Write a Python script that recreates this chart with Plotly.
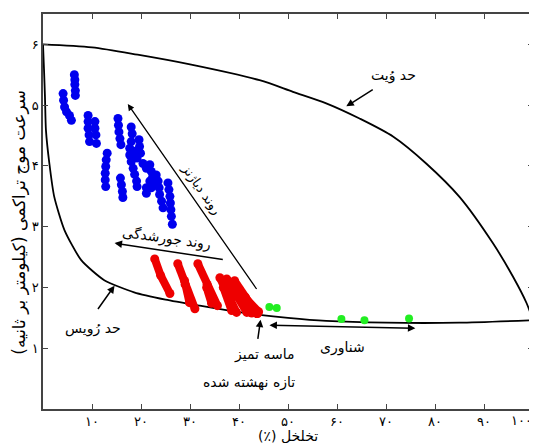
import plotly.graph_objects as go

# ---- data ----
x_ticks = [10, 20, 30, 40, 50, 60, 70, 80, 90, 100]
x_ticklabels = ["۱۰", "۲۰", "۳۰", "۴۰", "۵۰", "۶۰", "۷۰", "۸۰", "۹۰", "۱۰۰"]
y_ticks = [1, 2, 3, 4, 5, 6]
y_ticklabels = ["۱", "۲", "۳", "۴", "۵", "۶"]

voigt_x = [0, 10, 19.3, 30, 44.2, 51.0, 57.8, 64.6, 71.5, 78.2, 85.0, 91.8, 95.9, 98.7, 100]
voigt_y = [6.0, 5.95, 5.83, 5.67, 5.41, 5.22, 5.03, 4.78, 4.48, 4.04, 3.49, 2.73, 2.18, 1.74, 1.46]

reuss_x = [0, 0.2, 0.4, 0.6, 1.3, 2.3, 4.4, 7.8, 12.5, 18.6, 25.0, 32.0, 38.0, 44.2, 50.0, 57.8, 70.0, 85.0, 100.0]
reuss_y = [6.0, 5.6, 5.14, 4.59, 4.04, 3.49, 2.94, 2.45, 2.12, 1.92, 1.80, 1.70, 1.62, 1.55, 1.50, 1.45, 1.42, 1.42, 1.46]

blue_x = [6.4, 6.5, 6.5, 6.6, 6.6,
          4.1, 4.2, 4.4, 4.8, 5.4, 5.8,
          9.2, 9.2, 9.2, 9.4, 9.5, 10.6, 10.6, 10.8, 10.9,
          15.3, 15.4, 15.5, 15.7, 15.9,
          13.1, 12.9, 12.8, 12.7, 12.7, 12.8,
          15.8, 16.0, 16.2, 16.3,
          18.0, 18.2, 18.0, 17.7, 17.7, 18.0, 18.4, 18.7, 19.1, 19.2, 19.6, 19.7, 19.9, 19.2, 18.7,
          20.4, 21.1, 21.8, 22.1, 22.4, 21.8, 21.1, 21.1, 23.1, 23.5, 23.7, 23.8, 24.2, 24.5, 22.8, 22.1,
          25.5, 25.7, 25.9, 26.0, 26.1, 26.2, 26.4]
blue_y = [5.50, 5.42, 5.34, 5.24, 5.16,
          5.19, 5.08, 4.97, 4.89, 4.83, 4.75,
          4.83, 4.73, 4.62, 4.51, 4.40, 4.73, 4.62, 4.51, 4.37,
          4.78, 4.67, 4.56, 4.45, 4.35,
          4.21, 4.10, 3.99, 3.88, 3.77, 3.66,
          3.80, 3.69, 3.58, 3.48,
          4.64, 4.53, 4.40, 4.29, 4.18, 4.07, 3.96, 3.86, 3.75, 3.66, 4.43, 4.32, 4.21, 4.13, 4.24,
          4.04, 3.96, 4.02, 3.91, 3.83, 3.75, 3.64, 3.55, 3.85, 3.75, 3.64, 3.53, 3.42, 3.31, 3.72, 3.64,
          3.72, 3.61, 3.50, 3.39, 3.28, 3.17, 3.04]

red_streaks_x = [[22.8, 24.0, 25.9], [27.5, 29.0, 31.0], [31.6, 33.5, 35.6], [28.9, 29.9],
                 [33.4, 34.4], [36.1, 37.8, 39.5], [37.5, 39.5, 41.6], [39.1, 41.3, 43.6],
                 [40.1, 43.8], [36.8, 38.5], [38.3, 40.5, 42.6], [41.0, 44.0]]
red_streaks_y = [[2.47, 2.20, 1.90], [2.39, 2.05, 1.65], [2.39, 2.05, 1.70], [2.11, 1.75],
                 [2.00, 1.74], [2.16, 1.88, 1.59], [2.14, 1.86, 1.59], [2.11, 1.84, 1.57],
                 [1.95, 1.57], [2.00, 1.62], [2.05, 1.80, 1.58], [1.85, 1.60]]

green_x = [46.2, 47.7, 60.9, 65.6, 74.7]
green_y = [1.68, 1.66, 1.48, 1.46, 1.49]

FONT = "DejaVu Sans"
RLM = "\u200f"

fig = go.Figure()
fig.add_trace(go.Scatter(x=voigt_x, y=voigt_y, mode="lines",
                         line=dict(color="black", width=1.8, shape="spline", smoothing=0.8), showlegend=False))
fig.add_trace(go.Scatter(x=reuss_x, y=reuss_y, mode="lines",
                         line=dict(color="black", width=1.8, shape="spline", smoothing=0.6), showlegend=False))

for rx, ry in zip(red_streaks_x, red_streaks_y):
    fig.add_trace(go.Scatter(x=rx, y=ry, mode="lines+markers",
                             line=dict(color="#ee0000", width=8),
                             marker=dict(color="#ee0000", size=9), showlegend=False))

fig.add_trace(go.Scatter(x=blue_x, y=blue_y, mode="markers",
                         marker=dict(color="#0000ee", size=9), showlegend=False))
fig.add_trace(go.Scatter(x=green_x, y=green_y, mode="markers",
                         marker=dict(color="#22ee22", size=8), showlegend=False))

anns = []


def arrow(x, y, ax, ay, width=1.5, side="end"):
    return dict(x=x, y=y, ax=ax, ay=ay, xref="x", yref="y", axref="x", ayref="y",
                showarrow=True, arrowhead=2, arrowsize=1, arrowwidth=width,
                arrowcolor="black", arrowside=side, text="")


anns.append(arrow(61.9, 4.98, 67.6, 5.27))
anns.append(arrow(14.6, 2.03, 11.0, 1.62))
anns.append(arrow(17.3, 5.02, 43.8, 1.95, width=1.3))
anns.append(arrow(14.6, 2.73, 37.0, 2.455))
anns.append(arrow(44.4, 1.47, 43.8, 1.13))
anns.append(arrow(76.0, 1.33, 45.9, 1.38, side="end+start"))


def label(x, y, text, size=14, angle=0):
    return dict(x=x, y=y, xref="x", yref="y", text=text, showarrow=False,
                xanchor="center", yanchor="middle",
                font=dict(family=FONT, size=size, color="black"), textangle=angle)


anns.append(label(71.6, 5.49, "حد وُیت"))
anns.append(label(10.2, 1.33, "حد رُویس"))
anns.append(label(32.4, 3.61, "روند دیاژنز", size=13, angle=55))
anns.append(label(25.2, 2.80, "روند جورشدگی", size=14, angle=8))
anns.append(label(45.2, 0.89, "ماسه تمیز", size=14))
anns.append(label(42.0, 0.43, "تازه نهشته شده", size=14))
anns.append(label(61.1, 1.02, "شناوری", size=14))

# the last x tick label sits at the window edge, so it is drawn nudged inward
anns.append(dict(x=x_ticks[-1], y=0, xref="x", yref="y", text=x_ticklabels[-1], showarrow=False,
                 xanchor="center", yanchor="middle", xshift=-12, yshift=-11,
                 font=dict(family=FONT, size=13, color="black")))

anns.append(dict(x=-0.047, y=0.474, xref="paper", yref="paper", showarrow=False,
                 xanchor="center", yanchor="middle",
                 text="سرعت موج تراکمی (کیلومتر بر ثانیه)" + RLM, textangle=-90,
                 font=dict(family=FONT, size=17, color="black")))
anns.append(dict(x=0.5, y=-0.068, xref="paper", yref="paper", showarrow=False,
                 xanchor="center", yanchor="middle",
                 text="تخلخل (٪)" + RLM,
                 font=dict(family=FONT, size=14, color="black")))

# page body has an 8px margin, so the figure is sized/offset to fill the window
fig.update_layout(
    width=529, height=435,
    margin=dict(l=35, r=4, t=6, b=34, autoexpand=False),
    paper_bgcolor="white", plot_bgcolor="white",
    font=dict(family=FONT, size=13, color="black"),
    annotations=anns,
    xaxis=dict(range=[0, 100], tickvals=x_ticks, ticktext=x_ticklabels[:-1] + [""],
               ticks="inside", ticklen=5, tickcolor="#444", showgrid=False, zeroline=False,
               showline=True, linecolor="#444", linewidth=1.5, mirror="ticks",
               automargin=False,
               tickfont=dict(family=FONT, size=13)),
    yaxis=dict(range=[0, 6.5], tickvals=y_ticks, ticktext=y_ticklabels,
               ticks="inside", ticklen=5, tickcolor="#444", showgrid=False, zeroline=False,
               showline=True, linecolor="#444", linewidth=1.5, mirror="ticks",
               automargin=False,
               tickfont=dict(family=FONT, size=13)),
)

fig.write_html("out.html")
